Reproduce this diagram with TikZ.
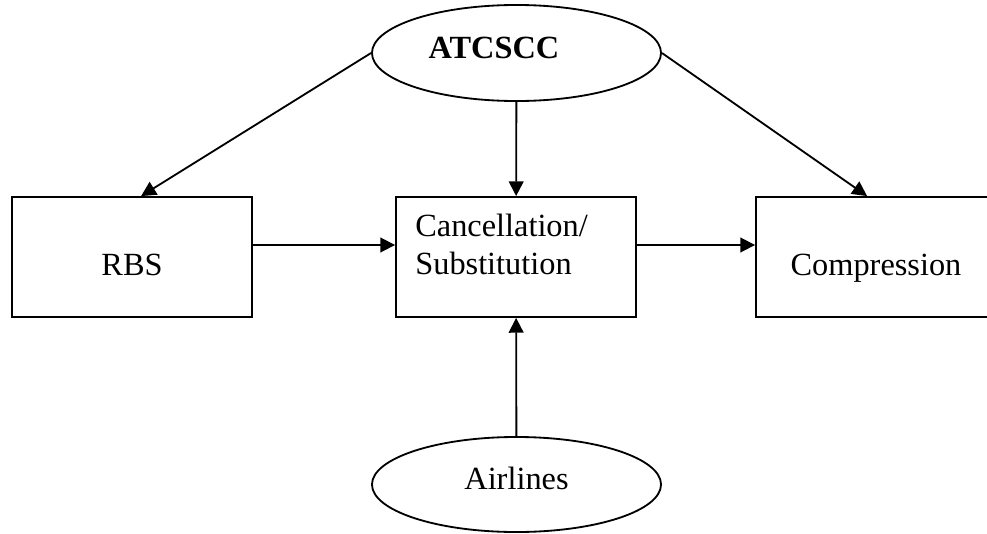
\documentclass[tikz,border=0pt]{standalone}
\usepackage{fontspec}
\setmainfont{Liberation Serif}
\usetikzlibrary{shapes.geometric,arrows.meta}

\begin{document}
\begin{tikzpicture}[x=0.025cm, y=-0.025cm,
    font=\fontsize{23}{27}\selectfont,
    box/.style={draw, line width=1.3pt, minimum width=6cm, minimum height=3cm, inner sep=0pt, text height=0.9cm, text depth=0cm},
    oval/.style={draw, ellipse, line width=1.3pt, minimum width=7.225cm, minimum height=2.4cm, inner sep=0pt},
    arrow/.style={line width=1.3pt, -{Triangle[length=0.37cm, width=0.37cm]}}]
    \useasboundingbox (0,0) rectangle (987,533);
    % Command center on top
    \node[oval, font=\fontsize{23}{27}\selectfont\bfseries, text depth=0.25cm] (atcscc) at (516.5,53) {ATCSCC\hspace*{1.125cm}};
    % The three stages
    \node[box] (rbs) at (132,257) {RBS};
    \node[box] (cancel) at (516,257) {};
    \node[anchor=north west, align=left, inner sep=0pt] (canceltext) at ([xshift=0.5cm, yshift=-0.45cm]cancel.north west) {Cancellation/\\Substitution};
    \node[box] (comp) at (876,257) {Compression};
    % Airlines at the bottom
    \node[oval, minimum height=2.375cm, text depth=0.3cm] (airlines) at (516.5,484.5) {Airlines};
    % Arrows
    \draw[arrow] (atcscc.west) -- ([xshift=3.25cm]rbs.north west);
    \draw[arrow] (atcscc) -- (cancel);
    \draw[arrow] (atcscc.east) -- ([xshift=2.8cm]comp.north west);
    \draw[arrow] ([yshift=0.3cm]rbs.east) -- ([yshift=0.3cm]cancel.west);
    \draw[arrow] ([yshift=0.3cm]cancel.east) -- ([yshift=0.3cm]comp.west);
    \draw[arrow] (airlines) -- (cancel);
\end{tikzpicture}
\end{document}
